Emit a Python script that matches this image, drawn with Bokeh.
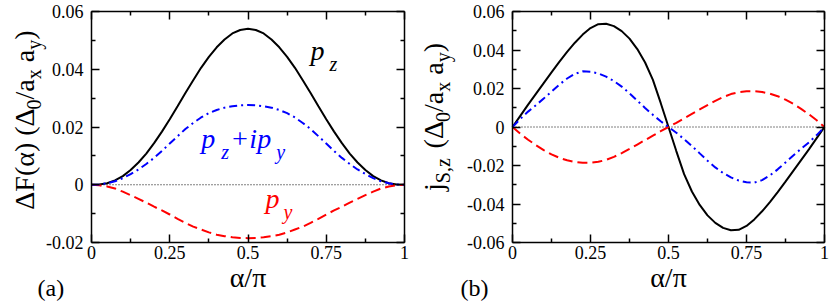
import math
from bokeh.plotting import figure
from bokeh.layouts import row
from bokeh.models import FixedTicker, LinearAxis, Label, Range1d
from bokeh.embed import file_html
from bokeh.resources import INLINE

FONT = "serif"

# ---------------- data ----------------
alpha = [0.0, 0.025, 0.05, 0.075, 0.1, 0.125, 0.15, 0.175, 0.2, 0.225, 0.25,
         0.275, 0.3, 0.325, 0.35, 0.375, 0.4, 0.425, 0.45, 0.475, 0.5,
         0.525, 0.55, 0.575, 0.6, 0.625, 0.65, 0.675, 0.7, 0.725, 0.75,
         0.775, 0.8, 0.825, 0.85, 0.875, 0.9, 0.925, 0.95, 0.975, 1.0]

# panel (a): Delta F(alpha)
dF_pz = [0.0, 0.0001, 0.0005, 0.0015, 0.0030, 0.0051, 0.0077, 0.0108, 0.0144, 0.0184, 0.0227,
         0.0272, 0.0318, 0.0362, 0.0405, 0.0443, 0.0476, 0.0503, 0.0524, 0.0536, 0.0540,
         0.0536, 0.0524, 0.0503, 0.0476, 0.0443, 0.0405, 0.0362, 0.0318, 0.0272, 0.0227,
         0.0184, 0.0144, 0.0108, 0.0077, 0.0051, 0.0030, 0.0015, 0.0005, 0.0001, 0.0]
dF_pzipy = [0.0, 0.0001, 0.0005, 0.0012, 0.0023, 0.0037, 0.0053, 0.0072, 0.0093, 0.0117, 0.0143,
            0.0168, 0.0193, 0.0214, 0.0233, 0.0248, 0.0259, 0.0267, 0.0272, 0.0275, 0.0276,
            0.0275, 0.0272, 0.0267, 0.0259, 0.0248, 0.0233, 0.0214, 0.0193, 0.0168, 0.0143,
            0.0117, 0.0093, 0.0072, 0.0053, 0.0037, 0.0023, 0.0012, 0.0005, 0.0001, 0.0]
dF_py = [0.0, -0.0002, -0.0006, -0.0013, -0.0024, -0.0036, -0.0049, -0.0062, -0.0076, -0.0089, -0.0103,
         -0.0118, -0.0132, -0.0145, -0.0155, -0.0165, -0.0173, -0.0178, -0.0182, -0.0184, -0.0185,
         -0.0184, -0.0182, -0.0178, -0.0173, -0.0165, -0.0155, -0.0145, -0.0132, -0.0118, -0.0103,
         -0.0089, -0.0076, -0.0062, -0.0049, -0.0036, -0.0024, -0.0013, -0.0006, -0.0002, 0.0]

# panel (b): j_{S,z}
j_pz = [0.0, 0.0058, 0.0116, 0.0172, 0.0228, 0.0284, 0.0338, 0.0390, 0.0438, 0.0480, 0.0514,
        0.0534, 0.0536, 0.0524, 0.0498, 0.0459, 0.0405, 0.0335, 0.0245, 0.0125, 0.0,
        -0.0125, -0.0245, -0.0335, -0.0405, -0.0459, -0.0498, -0.0524, -0.0536, -0.0534, -0.0514,
        -0.0480, -0.0438, -0.0390, -0.0338, -0.0284, -0.0228, -0.0172, -0.0116, -0.0058, 0.0]
j_pzipy = [0.0, 0.0042, 0.0080, 0.0113, 0.0148, 0.0184, 0.0220, 0.0252, 0.0276, 0.0289, 0.0287,
           0.0278, 0.0262, 0.0239, 0.0210, 0.0175, 0.0137, 0.0099, 0.0063, 0.0030, 0.0,
           -0.0030, -0.0063, -0.0099, -0.0137, -0.0175, -0.0210, -0.0239, -0.0262, -0.0278, -0.0287,
           -0.0289, -0.0276, -0.0252, -0.0220, -0.0184, -0.0148, -0.0113, -0.0080, -0.0042, 0.0]
j_py = [0.0, -0.0035, -0.0066, -0.0094, -0.0120, -0.0142, -0.0160, -0.0173, -0.0182, -0.0186, -0.0186,
        -0.0181, -0.0171, -0.0155, -0.0136, -0.0114, -0.0091, -0.0068, -0.0045, -0.0022, 0.0,
        0.0022, 0.0045, 0.0068, 0.0091, 0.0114, 0.0136, 0.0155, 0.0171, 0.0181, 0.0186,
        0.0186, 0.0182, 0.0173, 0.0160, 0.0142, 0.0120, 0.0094, 0.0066, 0.0035, 0.0]

zero_x = [0.0, 1.0]
zero_y = [0.0, 0.0]

x_ticks = [0, 0.25, 0.5, 0.75, 1]
x_tick_labels = ["0", "0.25", "0.5", "0.75", "1"]
x_minor = [0.125, 0.375, 0.625, 0.875]

ya_ticks = [-0.02, 0, 0.02, 0.04, 0.06]
ya_tick_labels = ["-0.02", "0", "0.02", "0.04", "0.06"]
ya_minor = [-0.01, 0.01, 0.03, 0.05]

yb_ticks = [-0.06, -0.04, -0.02, 0, 0.02, 0.04, 0.06]
yb_tick_labels = ["-0.06", "-0.04", "-0.02", "0", "0.02", "0.04", "0.06"]
yb_minor = [-0.05, -0.03, -0.01, 0.01, 0.03, 0.05]

# ---------------- helpers ----------------
H = 302
BOX_TOP, BOX_BOTTOM = 11, 242   # pixel rows of the plot box inside each canvas
BSHIFT = 0.3                    # baseline correction, in em

W = {'Δ': 0.612, 'F': 0.556, '(': 0.333, ')': 0.333, 'α': 0.55, ' ': 0.25, '0': 0.5,
     '/': 0.278, 'a': 0.444, 'x': 0.5, 'y': 0.5, 'j': 0.278, 'S': 0.556, ',': 0.25,
     'z': 0.444, 'π': 0.55}


def tw(text, size):
    return sum(W.get(c, 0.5) for c in text) * size


def style_axis(ax, ticks, labels, minor, show):
    ax.ticker = FixedTicker(ticks=ticks, minor_ticks=minor)
    ax.major_label_overrides = {t: l for t, l in zip(ticks, labels)}
    ax.axis_line_color = "black"
    ax.axis_line_width = 1.5
    ax.major_tick_in = 8
    ax.major_tick_out = 0
    ax.minor_tick_in = 4
    ax.minor_tick_out = 0
    ax.major_tick_line_width = 1.5
    ax.minor_tick_line_width = 1.5
    ax.major_tick_line_color = "black"
    ax.minor_tick_line_color = "black"
    ax.major_label_text_font = FONT
    ax.major_label_text_font_size = "18px"
    if show:
        ax.major_label_text_color = "black"
    else:
        ax.major_label_text_color = None
        ax.major_label_standoff = 0


def build(width, box_left, box_right, ymin, ymax, yt, ytl, ym):
    box_w = width - box_left - box_right
    sy = (BOX_BOTTOM - BOX_TOP) / (ymax - ymin)
    xr = Range1d(-box_left / box_w, 1 + box_right / box_w)
    yr = Range1d(ymin - (H - BOX_BOTTOM) / sy, ymax + BOX_TOP / sy)
    p = figure(width=width, height=H, x_range=xr, y_range=yr,
               output_backend="svg", toolbar_location=None, title=None,
               x_axis_location=None, y_axis_location=None, min_border=0)
    p.grid.visible = False
    p.outline_line_color = None
    bottom = LinearAxis(fixed_location=ymin, bounds=(0, 1))
    top = LinearAxis(fixed_location=ymax, bounds=(0, 1))
    left = LinearAxis(fixed_location=0, bounds=(ymin, ymax))
    right = LinearAxis(fixed_location=1, bounds=(ymin, ymax))
    p.add_layout(bottom, "below")
    p.add_layout(top, "above")
    p.add_layout(left, "left")
    p.add_layout(right, "right")
    style_axis(bottom, x_ticks, x_tick_labels, x_minor, True)
    style_axis(top, x_ticks, x_tick_labels, x_minor, False)
    style_axis(left, yt, ytl, ym, True)
    style_axis(right, yt, ytl, ym, False)
    bottom.major_label_standoff = 3
    bottom.axis_label = "α/π"
    bottom.axis_label_text_font = FONT
    bottom.axis_label_text_font_size = "28px"
    bottom.axis_label_text_font_style = "normal"
    bottom.axis_label_text_color = "black"
    bottom.axis_label_standoff = 0
    left.major_label_standoff = 8
    p.line(zero_x, zero_y, line_color="black", line_width=1, line_dash="1 2")
    return p


def curves(p, ys_black, ys_red, ys_blue):
    p.line(alpha, ys_black, line_color="black", line_width=2)
    p.line(alpha, ys_red, line_color="#ff0000", line_width=2, line_dash="10 5")
    p.line(alpha, ys_blue, line_color="#0000ff", line_width=2, line_dash="8 4 2 4")


def h_label(p, x, y, parts, color):
    for text, size, dx, dy in parts:
        p.add_layout(Label(x=x, y=y, text=text, x_offset=dx,
                           y_offset=-dy + BSHIFT * size,
                           text_font=FONT, text_font_size=f"{size}px",
                           text_font_style="italic", text_color=color,
                           text_align="left", text_baseline="alphabetic"))


def rot_label(p, yc, xoff, parts):
    # parts: (text, size, subscript shift, gap before in em)
    total = sum(tw(t, s) + g * s for t, s, _, g in parts)
    adv = -total / 2
    for text, size, sub, gap in parts:
        adv += gap * size
        p.add_layout(Label(x=0, y=yc, text=text, x_offset=xoff + sub - BSHIFT * size,
                           y_offset=adv, angle=math.pi / 2, text_font=FONT,
                           text_font_size=f"{size}px", text_color="black",
                           text_align="left", text_baseline="alphabetic"))
        adv += tw(text, size)


def tag(p, ymin, text, xoff):
    p.add_layout(Label(x=0, y=ymin, text=text, x_offset=xoff,
                       y_offset=-53 + BSHIFT * 24,
                       text_font=FONT, text_font_size="24px", text_color="black",
                       text_align="left", text_baseline="alphabetic"))


# ---------------- panel (a) ----------------
pa = build(415, 91, 11, -0.02, 0.06, ya_ticks, ya_tick_labels, ya_minor)
curves(pa, dF_pz, dF_py, dF_pzipy)
h_label(pa, 0.70, 0.0436, [("p", 28, 0, 0), ("z", 20, 19, 11)], "black")
h_label(pa, 0.351, 0.0131, [("p", 28, 0, 0), ("z", 20, 20, 11), ("+", 28, 29, 0),
                            ("i", 28, 48, 0), ("p", 28, 56, 0), ("y", 20, 75, 11)], "#0000ff")
h_label(pa, 0.556, -0.0076, [("p", 28, 0, 0), ("y", 20, 18, 11)], "#ff0000")
rot_label(pa, 0.0224, -59, [("ΔF(α) (Δ", 28, 0, 0), ("0", 20, 7, 0), ("/a", 28, 0, 0),
                            ("x", 20, 7, 0), ("a", 28, 0, 0.25), ("y", 20, 7, 0),
                            (")", 28, 0, 0)])
tag(pa, -0.02, "(a)", -54)

# ---------------- panel (b) ----------------
pb = build(415, 97, 6, -0.06, 0.06, yb_ticks, yb_tick_labels, yb_minor)
curves(pb, j_pz, j_py, j_pzipy)
rot_label(pb, 0.0052, -71, [("j", 28, 0, 0), ("S,z", 20, 7, 0), ("(Δ", 28, 0, 0.35),
                            ("0", 20, 7, 0), ("/a", 28, 0, 0), ("x", 20, 7, 0),
                            ("a", 28, 0, 0.25), ("y", 20, 7, 0), (")", 28, 0, 0)])
tag(pb, -0.06, "(b)", -52)

layout = row(pa, pb)
open("out.html", "w").write(file_html(layout, INLINE))
